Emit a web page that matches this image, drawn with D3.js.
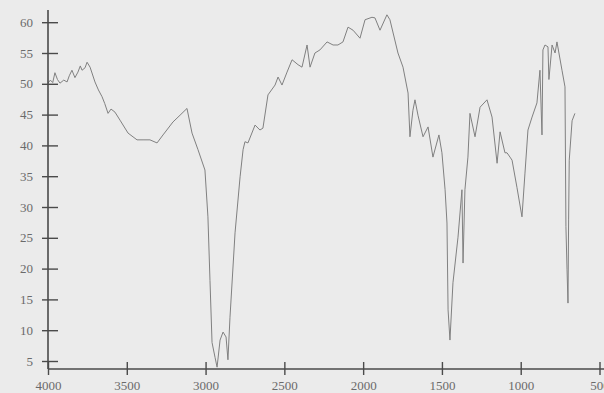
<!DOCTYPE html>
<html>
<head>
<meta charset="utf-8">
<script src="https://cdn.jsdelivr.net/npm/d3@7"></script>
<style>
  html, body { margin: 0; padding: 0; background: #ebebeb; }
  svg { display: block; }
  .tick text { font-family: "Liberation Serif", "DejaVu Serif", serif; font-size: 13px; fill: #6a6a6a; }
</style>
</head>
<body>
<div id="chart"></div>
<script>
// wavenumber (cm-1) and transmittance (%)
const wavenumbers = [
  4000, 3985, 3970, 3956, 3940, 3924, 3900, 3879, 3865, 3848, 3829, 3810, 3795, 3784, 3765,
  3752, 3733, 3702, 3680, 3657, 3640, 3619, 3600, 3575, 3543,
  3492, 3435, 3397, 3353, 3308, 3270, 3207, 3162, 3118, 3086, 3048, 3004, 2985, 2972, 2959,
  2940, 2927, 2908, 2889, 2870, 2858, 2845, 2813, 2781, 2762, 2750, 2731, 2686, 2655, 2636,
  2604, 2559, 2540, 2515, 2483, 2451, 2413, 2388, 2356, 2337, 2306, 2274, 2229, 2191, 2160,
  2128, 2096, 2064, 2020, 1988, 1944, 1925, 1893, 1849, 1830, 1779, 1747, 1715, 1703, 1684,
  1671, 1652, 1620, 1588, 1557, 1519, 1500, 1480, 1468, 1461, 1449, 1430, 1398, 1373, 1366,
  1354, 1335, 1322, 1290, 1258, 1214, 1182, 1150, 1131, 1100, 1087, 1068, 1055, 1024, 992,
  973, 954, 928, 897, 878, 865, 859, 846, 827, 821, 801, 782, 770, 738, 719,
  713, 706, 700, 696, 692, 674, 656
];
const transmittance = [
  50.1, 50.6, 50.2, 51.8, 50.7, 50.1, 50.6, 50.3, 51.3, 52.2, 51.0, 51.9, 52.9, 52.2, 52.6,
  53.5, 52.7, 50.3, 49.0, 47.9, 46.8, 45.2, 45.9, 45.4, 44.1,
  42.0, 40.9, 40.9, 40.9, 40.4, 41.7, 43.8, 44.9, 46.0, 42.0, 39.3, 36.0, 28.4, 18.1, 8.0,
  5.6, 4.0, 8.4, 9.7, 8.9, 5.2, 12.1, 25.8, 34.9, 39.3, 40.6, 40.4, 43.3, 42.5, 42.8,
  48.2, 49.8, 51.1, 49.8, 51.9, 53.9, 53.1, 52.7, 56.3, 52.7, 55.0, 55.5, 56.8, 56.3, 56.3,
  56.8, 59.2, 58.7, 57.4, 60.4, 60.8, 60.7, 58.7, 61.2, 60.4, 55.0, 52.7, 48.5, 41.4, 45.7,
  47.4, 44.9, 41.4, 43.0, 38.1, 41.7, 38.8, 32.8, 27.4, 13.3, 8.4, 17.7, 25.1, 32.8, 20.9,
  32.8, 38.1, 45.2, 41.4, 46.2, 47.4, 44.6, 37.1, 42.2, 38.8, 38.8, 38.1, 37.6, 33.2, 28.4,
  35.5, 42.5, 44.6, 46.9, 52.2, 41.7, 55.5, 56.3, 56.0, 50.7, 56.3, 55.0, 56.8, 52.2, 49.5,
  26.8, 19.8, 14.4, 27.9, 37.6, 44.0, 45.2
];
const xTicks = [4000, 3500, 3000, 2500, 2000, 1500, 1000, 500];
const yTicks = [5, 10, 15, 20, 25, 30, 35, 40, 45, 50, 55, 60];

const width = 604, height = 393;
const svg = d3.select('#chart').append('svg')
  .attr('width', width)
  .attr('height', height);

const x = d3.scaleLinear().domain([4000, 500]).range([48, 599.5]);
const y = d3.scaleLinear().domain([5, 60]).range([361, 22.2]);

const axisY = 369; // where the x axis sits
const data = wavenumbers.map((w, i) => [w, transmittance[i]]);

// spectrum
svg.append('path')
  .datum(data)
  .attr('fill', 'none')
  .attr('stroke', '#808080')
  .attr('stroke-width', 1)
  .attr('stroke-linejoin', 'round')
  .attr('d', d3.line().x(d => x(d[0])).y(d => y(d[1])));

// x axis
const xAxisG = svg.append('g')
  .attr('transform', `translate(0,${axisY})`)
  .call(d3.axisBottom(x).tickValues(xTicks).tickFormat(d3.format('d')).tickSizeOuter(0).tickPadding(6));
xAxisG.select('.domain').remove();
xAxisG.append('line')
  .attr('x1', 48).attr('x2', width)
  .attr('stroke', '#4a4a4a').attr('stroke-width', 1.6);
xAxisG.selectAll('.tick line')
  .attr('y1', -7).attr('y2', 6)
  .attr('stroke', '#4a4a4a').attr('stroke-width', 1.4);

// y axis
const yAxisG = svg.append('g')
  .attr('transform', 'translate(48,0)')
  .call(d3.axisLeft(y).tickValues(yTicks).tickSizeOuter(0).tickPadding(9));
yAxisG.select('.domain').remove();
yAxisG.append('line')
  .attr('y1', 10).attr('y2', axisY)
  .attr('stroke', '#4a4a4a').attr('stroke-width', 1.6);
yAxisG.selectAll('.tick line')
  .attr('x1', -6).attr('x2', 10)
  .attr('stroke', '#4a4a4a').attr('stroke-width', 1.4);
</script>
</body>
</html>
